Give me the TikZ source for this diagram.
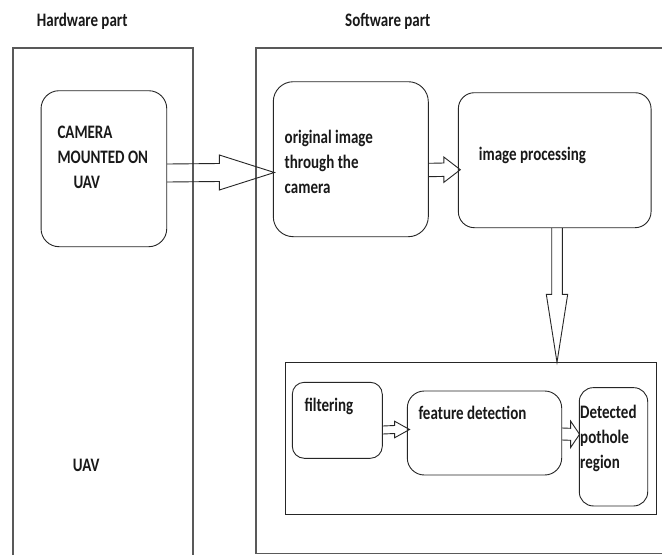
\documentclass[tikz,border=0pt]{standalone}
\usepackage{fontspec}
\setmainfont{Carlito}
\usepackage{graphicx}
\usetikzlibrary{calc}
\newcommand\vtxt[1]{\scalebox{1}[1.27]{\begin{tabular}[t]{@{}l@{}}#1\end{tabular}}}
% horizontal block arrow: #1 start, #2 tip, #3 shaft half width, #4 head half width, #5 head length
\newcommand\blockR[5]{\draw[arrowline] ($(#1)+(0,-#3)$) -- ($(#2)+(-#5,-#3)$) -- ($(#2)+(-#5,-#4)$) -- (#2) -- ($(#2)+(-#5,#4)$) -- ($(#2)+(-#5,#3)$) -- ($(#1)+(0,#3)$);}
% downward block arrow
\newcommand\blockD[5]{\draw[arrowline] ($(#1)+(-#3,0)$) -- ($(#2)+(-#3,-#5)$) -- ($(#2)+(-#4,-#5)$) -- (#2) -- ($(#2)+(#4,-#5)$) -- ($(#2)+(#3,-#5)$) -- ($(#1)+(#3,0)$);}
\begin{document}
\begin{tikzpicture}[x=1pt,y=-1pt,
  box/.style={draw=black!85, line width=0.9pt, rectangle, inner sep=0pt},
  frame/.style={draw=black!65, line width=1.3pt},
  arrowline/.style={draw=black!85, line width=0.9pt, line join=miter},
  txt/.style={anchor=base west, inner sep=0pt, font=\fontsize{15}{19.7}\selectfont\bfseries, text=black!90}]
\fill[white] (0,0) rectangle (662,555);
\useasboundingbox (0,0) rectangle (662,555);

% containers
\draw[frame] (13,555) -- (13,48) -- (193,48) -- (193,555);
\draw[frame] (662,48) -- (256,48) -- (256,553.5) -- (662,553.5);

% titles
\node[txt] (hwt) at (36.7,26.5) {\vtxt{Hardware part}};
\node[txt] (swt) at (345,26.5) {\vtxt{Software part}};

% boxes
\node[box, rounded corners=18pt, minimum width=125.7pt, minimum height=156pt] (cam) at (103.9,168.7) {};
\node[box, rounded corners=20pt, minimum width=155pt, minimum height=155pt] (orig) at (350.8,159.2) {};
\node[box, rounded corners=16pt, minimum width=192.7pt, minimum height=135pt] (proc) at (554.7,160.2) {};
\node[box, minimum width=371pt, minimum height=151.3pt] (inner) at (470.5,438.4) {};
\node[box, rounded corners=12pt, minimum width=90pt, minimum height=76pt] (filt) at (337.3,420.3) {};
\node[box, rounded corners=17pt, minimum width=154.4pt, minimum height=84pt] (feat) at (484.5,433) {};
\node[box, rounded corners=14pt, minimum width=68.4pt, minimum height=118.3pt] (det) at (613.5,446.8) {};

% texts
\node[txt] (camt) at (57.3,138.5) {\vtxt{CAMERA\\MOUNTED ON\\\hspace*{16pt}UAV}};
\node[txt] (uavt) at (72.7,471.5) {\vtxt{UAV}};
\node[txt] (origt) at (284.5,143.5) {\vtxt{original image\\through the\\camera}};
\node[txt] (proct) at (478.7,160) {\vtxt{image processing}};
\node[txt] (filtt) at (304.3,411.7) {\vtxt{filtering}};
\node[txt] (featt) at (418.3,419) {\vtxt{feature detection}};
\node[txt] (dett) at (580,418.5) {\vtxt{Detected\\pothole\\region}};

% arrows
\coordinate (a1s) at ($(cam.east)+(0,4.3)$);
\coordinate (a1t) at ($(orig.west)+(1.5,13.3)$);
\blockR{a1s}{a1t}{9}{17.5}{55}
\coordinate (a2s) at ($(orig.east)+(0,10.8)$);
\coordinate (a2t) at ($(proc.west)+(2.4,9.5)$);
\blockR{a2s}{a2t}{6.7}{12.7}{16.5}
\coordinate (a3s) at ($(proc.south)+(2.3,0)$);
\coordinate (a3t) at ($(inner.north)+(86.5,0)$);
\blockD{a3s}{a3t}{5.3}{10.7}{68}
\coordinate (a4s) at ($(filt.east)+(0,9.7)$);
\coordinate (a4t) at ($(feat.west)+(2.7,-3.5)$);
\blockR{a4s}{a4t}{4}{8.3}{15}
\coordinate (a5s) at ($(feat.east)+(0,1)$);
\coordinate (a5t) at ($(det.west)+(0.7,-12.5)$);
\blockR{a5s}{a5t}{6}{13.3}{9}
\end{tikzpicture}
\end{document}
